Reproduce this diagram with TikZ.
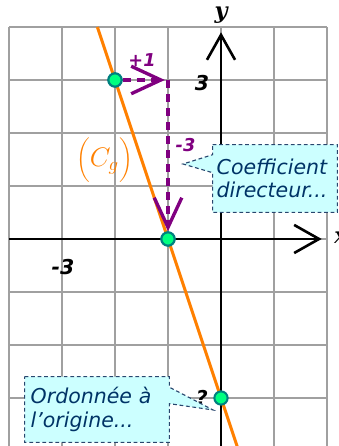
\documentclass[tikz,border=0pt]{standalone}
\usepackage{fontspec}
\setmainfont{DejaVu Sans}
\newfontfamily\axfont{DejaVu Serif}
\usetikzlibrary{arrows.meta,calc}
\definecolor{gridgray}{RGB}{160,160,160}
\definecolor{orng}{RGB}{255,128,0}
\definecolor{purp}{RGB}{128,0,128}
\definecolor{dotfill}{RGB}{0,255,128}
\definecolor{dotdraw}{RGB}{0,128,128}
\definecolor{boxfill}{RGB}{204,255,255}
\definecolor{boxdraw}{RGB}{40,70,110}
\definecolor{boxtext}{RGB}{0,51,102}
\pgfdeclarelayer{fg}
\pgfsetlayers{main,fg}
\begin{document}
\begin{tikzpicture}[
  gridline/.style={draw=gridgray,line width=0.6pt},
  axis/.style={line width=1.4pt,-{Straight Barb[length=0.47cm,width=0.53cm]}},
  curve/.style={draw=orng,line width=1.6pt},
  parrow/.style={draw=purp,line width=1.8pt,dash pattern=on 4.5pt off 3pt,-{Straight Barb[length=0.56cm,width=0.52cm]}},
  dot/.style={circle,fill=dotfill,draw=dotdraw,line width=1.1pt,minimum size=0.25cm,inner sep=0pt},
  numlbl/.style={font=\fontsize{11}{12}\selectfont\bfseries\itshape,inner sep=0pt},
  plbl/.style={font=\fontsize{9.5}{10}\selectfont\bfseries\itshape,text=purp,inner sep=0pt},
  boxtxt/.style={font=\fontsize{11}{12.6}\selectfont\itshape,text=boxtext,align=left,inner ysep=0pt},
  boxshape/.style={fill=boxfill,draw=boxdraw,line width=0.6pt,dash pattern=on 2pt off 1.5pt}
]
\useasboundingbox (-4.170,-3.906) rectangle (2.226,4.509);
% grid
\draw[gridline] (-4,-3.95) grid (2,4);
% axes
\coordinate (xs) at (-4,0);
\coordinate (xe) at (1.9,0);
\coordinate (ys) at (0,-3.95);
\coordinate (ye) at (0,3.9);
\draw[axis] (xs) -- (xe);
\draw[axis] (ys) -- (ye);
\node[font=\axfont\fontsize{12}{12}\selectfont\bfseries\itshape,anchor=west,inner sep=0pt] (xl) at (2.13,0.02) {x};
\node[font=\axfont\fontsize{12}{12}\selectfont\bfseries\itshape,inner sep=0pt] (yl) at (0,4.22) {y};
% labels on axes
\node[numlbl] (l3) at (-0.36,2.94) {3};
\node[numlbl] (lm3) at (-2.98,-0.53) {-3};
\node[numlbl] (lq) at (-0.36,-3.0) {?};
% line
\coordinate (L1) at (-7/3,4);
\coordinate (L2) at (0.317,-3.95);
\draw[curve] (L1) -- (L2);
\node[text=orng,font=\fontsize{14}{16}\selectfont,inner sep=0pt] (cg) at (-2.2,1.49) {$\biggl(C_g\biggr)$};
% points
\node[dot] (A) at (-2,3) {};
\node[dot] (B) at (-1,0) {};
\coordinate (M) at (-1,3);
\draw[parrow] (A) -- ($(M)+(-0.06,0)$);
\draw[parrow] (M) -- (B);
\node[dot] (A) at (-2,3) {};
\node[dot] (B) at (-1,0) {};
\node[dot] (C) at (0,-3) {};
\node[plbl] (p1) at (-1.49,3.38) {+1};
\node[plbl] (m3) at (-0.67,1.77) {-3};
% callouts
\begin{pgfonlayer}{fg}
\node[boxtxt,text width=2.2cm,inner xsep=0.07cm,minimum height=1.265cm] (coef) at (1.019,1.141) {Coefficient\\directeur...};
\node[boxtxt,text width=2.5cm,inner xsep=0.108cm,minimum height=1.226cm] (ord) at (-2.34,-3.217) {Ordonnée à\\l'origine...};
\end{pgfonlayer}
\coordinate (t1) at (-0.717,1.415);
\coordinate (t2) at (-0.15,-3.226);
\path[boxshape] (coef.north west) -- (coef.north east) -- (coef.south east) -- (coef.south west)
  -- ($(coef.north west)+(0,-0.53)$) -- (t1) -- ($(coef.north west)+(0,-0.19)$) -- cycle;
\path[boxshape] (ord.north west) -- (ord.north east) -- ($(ord.north east)+(0,-0.2)$) -- (t2)
  -- ($(ord.north east)+(0,-0.51)$) -- (ord.south east) -- (ord.south west) -- cycle;
\end{tikzpicture}
\end{document}
